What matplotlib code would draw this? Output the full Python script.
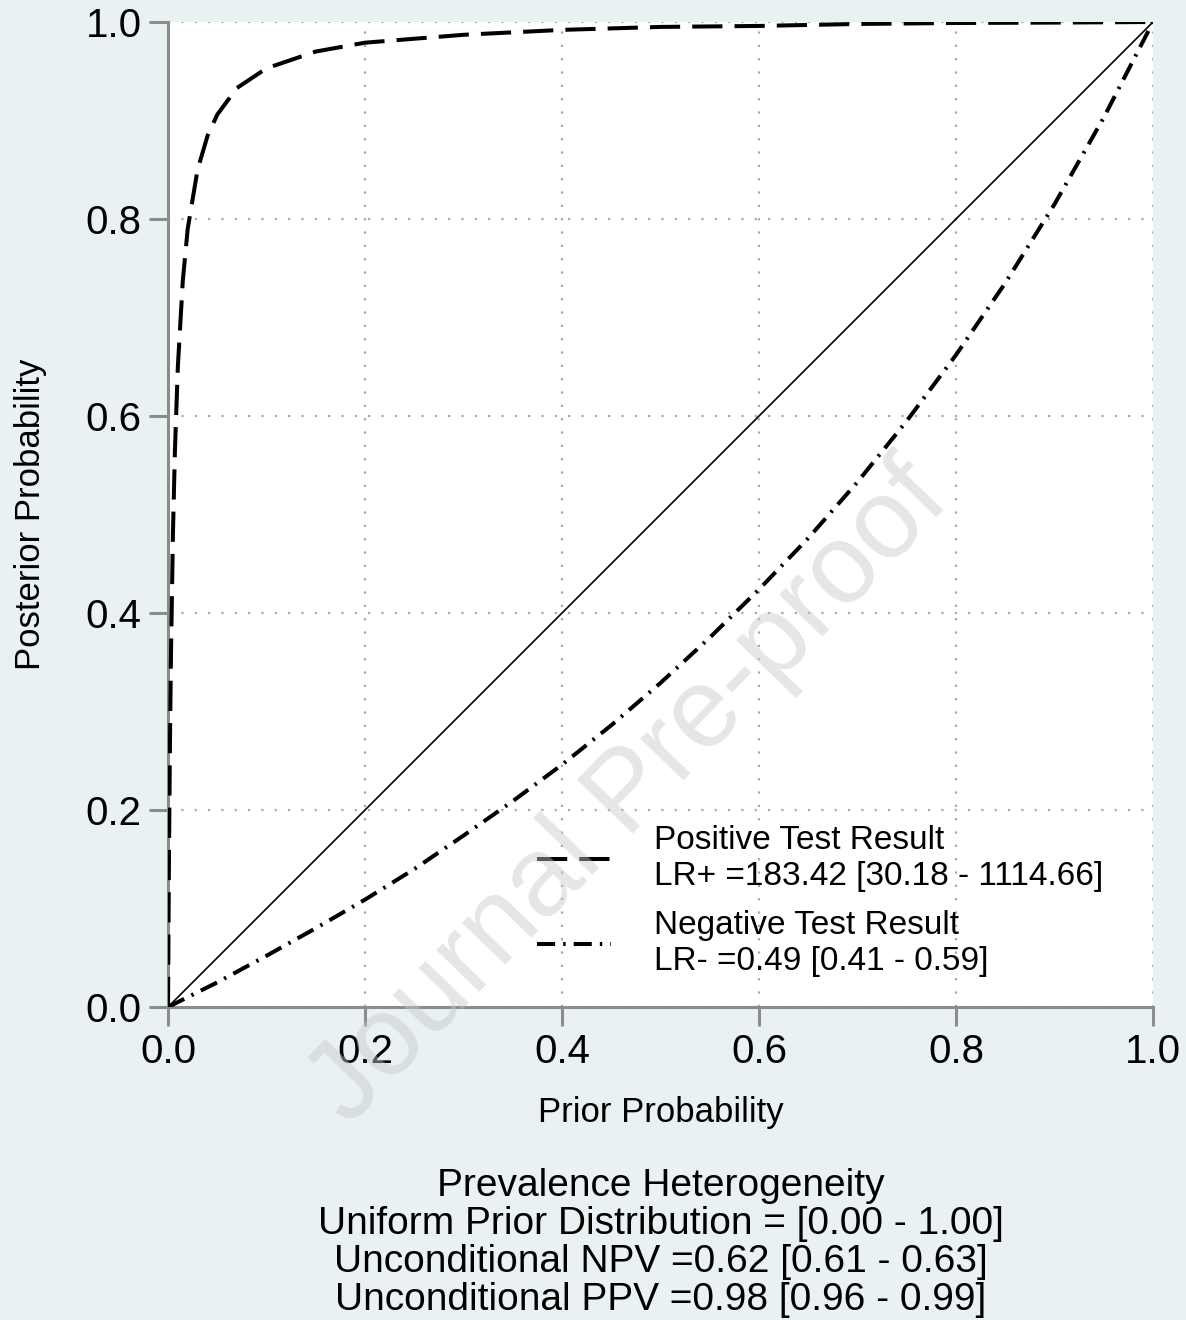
import matplotlib.pyplot as plt
import numpy as np

plt.rcParams['font.family'] = ['Liberation Sans', 'DejaVu Sans']

# values
prior_pos = [0.0, 0.001, 0.002, 0.003, 0.005, 0.007, 0.01, 0.015, 0.02, 0.03, 0.04,
             0.05, 0.07, 0.1, 0.15, 0.2, 0.3, 0.4, 0.5, 0.6, 0.7, 0.8, 0.9, 1.0]
post_pos = [0.0, 0.155, 0.27, 0.356, 0.48, 0.564, 0.65, 0.737, 0.79, 0.85, 0.884,
            0.906, 0.933, 0.953, 0.97, 0.979, 0.987, 0.992, 0.995, 0.996, 0.998, 0.999, 0.9994, 1.0]

prior_neg = [0.0, 0.05, 0.1, 0.15, 0.2, 0.25, 0.3, 0.35, 0.4, 0.45, 0.5,
             0.55, 0.6, 0.65, 0.7, 0.75, 0.8, 0.85, 0.9, 0.95, 1.0]
post_neg = [0.0, 0.025, 0.052, 0.08, 0.109, 0.14, 0.174, 0.209, 0.246, 0.286, 0.329,
            0.375, 0.424, 0.476, 0.533, 0.595, 0.662, 0.735, 0.815, 0.903, 1.0]

diag = [0.0, 1.0]

label_pos = "Positive Test Result\nLR+ =183.42 [30.18 - 1114.66]"
label_neg = "Negative Test Result\nLR- =0.49 [0.41 - 0.59]"
note_lines = ["Prevalence Heterogeneity",
              "Uniform Prior Distribution = [0.00 - 1.00]",
              "Unconditional NPV =0.62 [0.61 - 0.63]",
              "Unconditional PPV =0.98 [0.96 - 0.99]"]
ticks = [0.0, 0.2, 0.4, 0.6, 0.8, 1.0]

bg = '#EAF1F3'
axis_gray = '#8C8C8C'

fig = plt.figure(figsize=(11.86, 13.2), dpi=100, facecolor=bg)
ax = fig.add_axes([168 / 1186, 1 - 1007 / 1320, 985 / 1186, 985 / 1320])
ax.set_facecolor('white')

ax.plot(diag, diag, color='black', lw=1.2, zorder=3)
ax.plot(prior_pos, post_pos, color='black', lw=2.9, dashes=(7.5, 3.0),
        label=label_pos, zorder=4)
ax.plot(prior_neg, post_neg, color='black', lw=2.9, dashes=(4.5, 2.0, 0.6, 2.0),
        label=label_neg, zorder=4)

ax.set_xlim(0, 1)
ax.set_ylim(0, 1)
ax.set_xticks(ticks)
ax.set_yticks(ticks)
ax.set_xticklabels([f"{t:.1f}" for t in ticks])
ax.set_yticklabels([f"{t:.1f}" for t in ticks])
ax.grid(True, color='#A8A8A8', linestyle=(0, (1, 5)), lw=1.6)

for side in ['top', 'right']:
    ax.spines[side].set_visible(False)
for side in ['left', 'bottom']:
    ax.spines[side].set_color(axis_gray)
    ax.spines[side].set_linewidth(2.2)
ax.tick_params(axis='both', direction='out', length=14, width=2.2, color=axis_gray,
               labelsize=29, pad=5, labelcolor='black')
for lab in ax.get_xticklabels() + ax.get_yticklabels():
    lab.set_clip_on(False)

ax.set_xlabel("Prior Probability", fontsize=25, labelpad=18)
ax.set_ylabel("Posterior Probability", fontsize=25, labelpad=28)

ax.legend(loc='upper left', bbox_to_anchor=(0.375, 0.185), frameon=False,
          fontsize=24, handlelength=2.2, handletextpad=1.3, labelspacing=0.55,
          borderpad=0, borderaxespad=0)

fig.text(661 / 1186, 1 - 1243 / 1320, "\n".join(note_lines), ha='center', va='center',
         fontsize=28, linespacing=1.07)

# watermark
fig.text(630 / 1186, 1 - 795 / 1320, "Journal Pre-proof", ha='center', va='center',
         rotation=46, fontsize=81, color='#C4C8CA', alpha=0.45, zorder=10)

fig.savefig('out.png', dpi=100, facecolor=bg)
